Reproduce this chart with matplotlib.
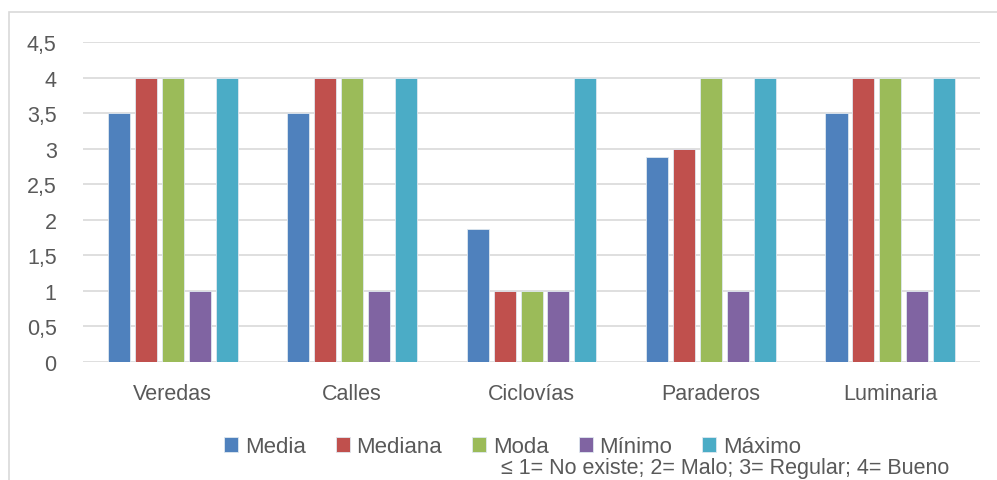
import matplotlib.pyplot as plt
from matplotlib.patches import Rectangle
import numpy as np

plt.rcParams['font.family'] = ['Liberation Sans', 'DejaVu Sans']

categorias = ["Veredas", "Calles", "Ciclovías", "Paraderos", "Luminaria"]
series = ["Media", "Mediana", "Moda", "Mínimo", "Máximo"]
media = [3.5, 3.5, 1.87, 2.88, 3.5]
mediana = [4, 4, 1, 3, 4]
moda = [4, 4, 1, 4, 4]
minimo = [1, 1, 1, 1, 1]
maximo = [4, 4, 4, 4, 4]
valores = [media, mediana, moda, minimo, maximo]
colores = ["#4F81BD", "#C0504D", "#9BBB59", "#8064A2", "#4BACC6"]
yticks = [0, 0.5, 1, 1.5, 2, 2.5, 3, 3.5, 4, 4.5]

fig = plt.figure(figsize=(9.97, 4.81), dpi=100)
ax = fig.add_axes([0.0833, 0.2453, 0.8997, 0.6653])

x = np.arange(len(categorias))
paso = 0.15
ancho = 0.123
for i, (nombre, vals, c) in enumerate(zip(series, valores, colores)):
    ax.bar(x + (i - 2) * paso, vals, width=ancho, color=c, label=nombre,
           edgecolor="#dfe8f0", linewidth=0.6, zorder=3)

ax.set_xlim(-0.5, len(categorias) - 0.5)
ax.set_ylim(0, 4.5)
ax.set_yticks(yticks)
ax.set_yticklabels([f"{t:g}".replace(".", ",") for t in yticks])
ax.set_xticks(x)
ax.set_xticklabels(categorias)
ax.tick_params(axis="both", length=0, colors="#595959", labelsize=15.5)
ax.tick_params(axis="x", pad=15)
ax.tick_params(axis="y", pad=19)
ax.grid(axis="y", color="#d9d9d9", linewidth=1.2, zorder=0)
for s in ax.spines.values():
    s.set_visible(False)

leg = fig.legend(loc="center left", bbox_to_anchor=(0.216, 0.069), ncol=5,
                 frameon=False, fontsize=16, handlelength=0.64, handleheight=0.64,
                 handletextpad=0.29, columnspacing=1.35, labelcolor="#595959",
                 borderaxespad=0)

fig.text(0.503, 0.026, "≤ 1= No existe; 2= Malo; 3= Regular; 4= Bueno",
         fontsize=15.5, color="#595959", ha="left", va="center")

# marco del área del gráfico
fig.patches.append(Rectangle((0.009, -0.05), 1.1, 1.023, transform=fig.transFigure,
                             fill=False, edgecolor="#d9d9d9", linewidth=1.2))

fig.savefig("out.png", dpi=100, facecolor="white")
